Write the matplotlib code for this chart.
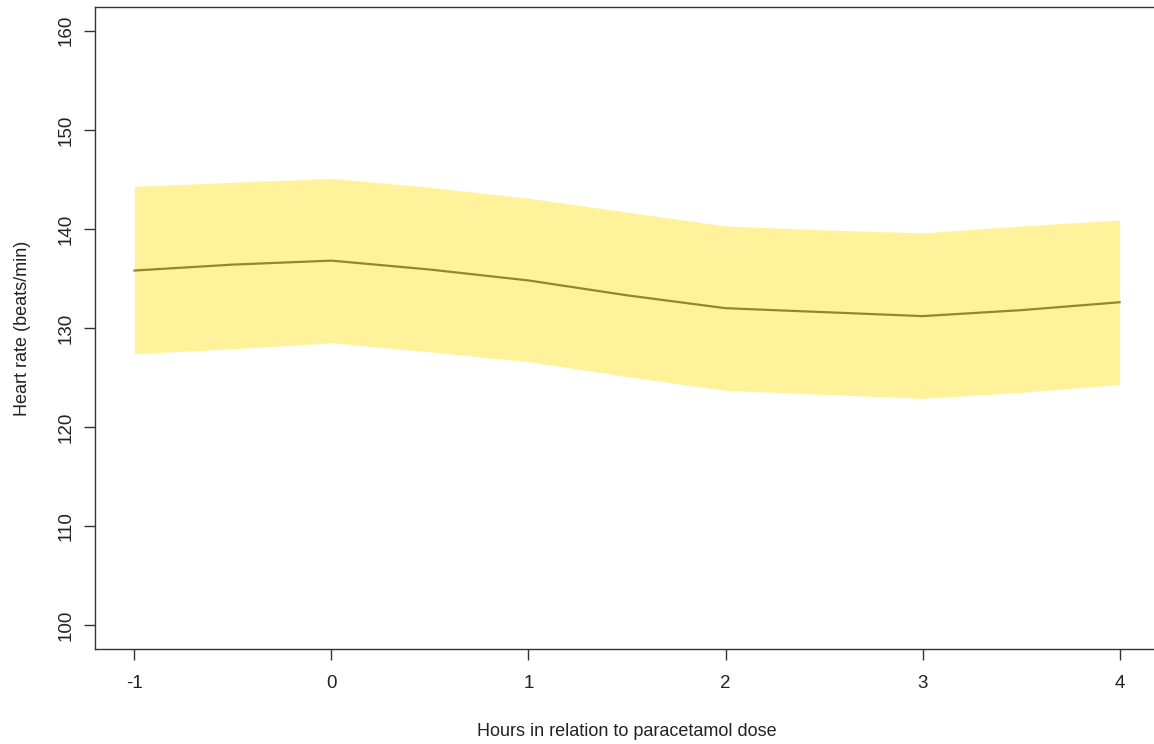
import numpy as np
import matplotlib.pyplot as plt

plt.rcParams['font.family'] = ['Liberation Sans', 'DejaVu Sans']

# values
hours = [-1, -0.5, 0, 0.5, 1, 1.5, 2, 2.5, 3, 3.5, 4]
hr_mean = [135.8, 136.4, 136.8, 135.9, 134.8, 133.3, 132.0, 131.6, 131.2, 131.8, 132.6]
hr_upper = [144.3, 144.7, 145.1, 144.2, 143.1, 141.7, 140.3, 139.9, 139.6, 140.3, 140.9]
hr_lower = [127.4, 127.9, 128.5, 127.6, 126.6, 125.1, 123.7, 123.3, 122.9, 123.5, 124.3]
xticks = [-1, 0, 1, 2, 3, 4]
yticks = [100, 110, 120, 130, 140, 150, 160]

fig = plt.figure(figsize=(11.54, 7.44), dpi=100)
# right edge of the box falls just outside the image, like the reference
ax = fig.add_axes([95/1154, 1 - 649/744, (1159 - 95)/1154, (649 - 7)/744])

ax.fill_between(hours, hr_lower, hr_upper, color='#fff29b', linewidth=0)
ax.plot(hours, hr_mean, color='#958629', linewidth=1.6)

ax.set_xlim(-1.2, 4.2)
ax.set_ylim(97.6, 162.4)
ax.set_xticks(xticks)
ax.set_xticklabels([str(v) for v in xticks])
ax.set_yticks(yticks)
ax.set_yticklabels([str(v) for v in yticks], rotation=90, va='center')
ax.tick_params(direction='out', length=8, width=1, colors='#333333',
               labelsize=13.5, labelcolor='#222222', pad=11)
ax.tick_params(axis='y', pad=7)
for s in ax.spines.values():
    s.set_linewidth(1)
    s.set_color('#333333')

ax.set_xlabel('Hours in relation to paracetamol dose', fontsize=13, labelpad=22, color='#222222')
ax.set_ylabel('Heart rate (beats/min)', fontsize=13, labelpad=19, color='#222222')

fig.savefig('out.png', dpi=100)
